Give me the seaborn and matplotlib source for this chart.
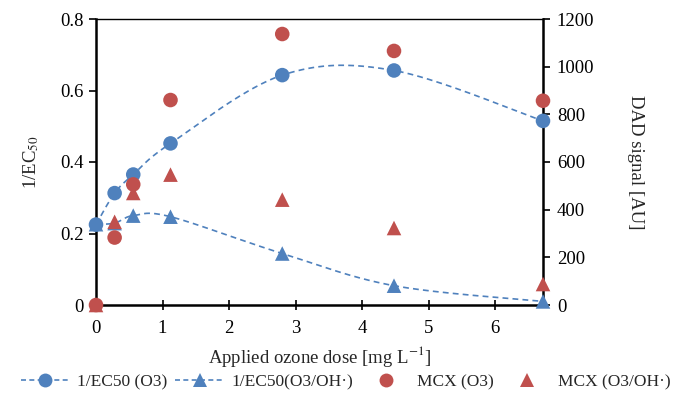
import numpy as np
import matplotlib
matplotlib.use("Agg")
import matplotlib.pyplot as plt
import seaborn as sns
from matplotlib.lines import Line2D

# ---- data ----
dose = [0, 0.28, 0.56, 1.12, 2.8, 4.48, 6.72]
ec50_o3 = [0.225, 0.313, 0.365, 0.452, 0.643, 0.656, 0.515]
ec50_o3oh = [0.226, 0.229, 0.250, 0.247, 0.144, 0.054, 0.010]
mcx_o3 = [0, 283, 506, 860, 1137, 1066, 857]
mcx_o3oh = [0, 349, 470, 547, 442, 323, 88]
labels = ["1/EC50 (O3)", "1/EC50(O3/OH·)", "MCX (O3)", "MCX (O3/OH·)"]

BLUE = "#4F81BD"
RED = "#C0504D"

sns.set_theme(style="white")
plt.rcParams['font.family'] = ['Liberation Serif', 'DejaVu Serif']
plt.rcParams['mathtext.fontset'] = 'stix'
FS = 13.5
LFS = 12.5


def smooth(x, y, n=40):
    """Excel-like smoothed line (Catmull-Rom Bezier)."""
    x = np.asarray(x, float); y = np.asarray(y, float)
    P = np.column_stack([x, y])
    out = []
    for i in range(len(P) - 1):
        p0 = P[i - 1] if i > 0 else P[i]
        p1 = P[i]; p2 = P[i + 1]
        p3 = P[i + 2] if i + 2 < len(P) else P[i + 1]
        c1 = p1 + (p2 - p0) / 6.0
        c2 = p2 - (p3 - p1) / 6.0
        t = np.linspace(0, 1, n)[:, None]
        seg = ((1 - t) ** 3) * p1 + 3 * ((1 - t) ** 2) * t * c1 + 3 * (1 - t) * t ** 2 * c2 + t ** 3 * p2
        out.append(seg if i == 0 else seg[1:])
    s = np.vstack(out)
    return s[:, 0], s[:, 1]


fig = plt.figure(figsize=(6.74, 4.05), dpi=100)
ax = fig.add_axes([96 / 674, 1 - 305 / 405, (543 - 96) / 674, (305 - 19) / 405])
ax2 = ax.twinx()

for yv in (ec50_o3, ec50_o3oh):
    sx, sy = smooth(dose, yv)
    ax.plot(sx, sy, ls=(0, (3.5, 2.5)), color=BLUE, lw=1.2, zorder=2)

# blue markers on ax2 scale (same mapping as left axis)
scale = 1200 / 0.8
sns.scatterplot(x=dose, y=np.array(ec50_o3) * scale, ax=ax2, marker='o', s=110, color=BLUE, edgecolor='none', zorder=3, clip_on=False)
sns.scatterplot(x=dose, y=np.array(ec50_o3oh) * scale, ax=ax2, marker='^', s=110, color=BLUE, edgecolor='none', zorder=3, clip_on=False)
sns.scatterplot(x=dose, y=mcx_o3, ax=ax2, marker='o', s=110, color=RED, edgecolor='none', zorder=4, clip_on=False)
sns.scatterplot(x=dose, y=mcx_o3oh, ax=ax2, marker='^', s=110, color=RED, edgecolor='none', zorder=4, clip_on=False)

ax.set_xlim(0, 6.72)
ax.set_ylim(0, 0.8)
ax2.set_ylim(0, 1200)
ax.set_xticks(range(0, 7))
ax.set_yticks([0, 0.2, 0.4, 0.6, 0.8])
ax.set_yticklabels(["0", "0.2", "0.4", "0.6", "0.8"])
ax2.set_yticks(range(0, 1201, 200))

for a in (ax, ax2):
    for sp in a.spines.values():
        sp.set_visible(False)
ax.spines['left'].set_visible(True)
ax.spines['bottom'].set_visible(True)
ax.spines['top'].set_visible(True)
ax2.spines['right'].set_visible(True)
for sp in ('left', 'bottom'):
    ax.spines[sp].set_linewidth(1.8); ax.spines[sp].set_color('black')
ax.spines['top'].set_linewidth(1.0); ax.spines['top'].set_color('black')
ax2.spines['right'].set_linewidth(1.8); ax2.spines['right'].set_color('black')

ax.tick_params(axis='y', direction='out', length=5, width=1.2, colors='black', labelsize=FS, left=True, pad=4)
ax.tick_params(axis='x', direction='inout', length=7, width=1.2, colors='black', labelsize=FS, bottom=True, pad=7)
ax2.tick_params(axis='y', direction='out', length=5, width=1.2, colors='black', labelsize=FS, right=True, pad=5)
ax.grid(False); ax2.grid(False)

ax.set_xlabel("Applied ozone dose [mg L$^{-1}$]", fontsize=FS, labelpad=5)
ax.set_ylabel("1/EC$_{50}$", fontsize=FS, labelpad=14)
ax2.set_ylabel("DAD signal [AU]", fontsize=FS, rotation=270, labelpad=36)

handles = [
    Line2D([], [], color=BLUE, ls=(0, (3, 2)), lw=1.2, marker='o', ms=10, markeredgewidth=0),
    Line2D([], [], color=BLUE, ls=(0, (3, 2)), lw=1.2, marker='^', ms=10, markeredgewidth=0),
    Line2D([], [], color=RED, ls='none', marker='o', ms=10, markeredgewidth=0),
    Line2D([], [], color=RED, ls='none', marker='^', ms=10, markeredgewidth=0),
]
leg = fig.legend(handles, labels, loc='center', bbox_to_anchor=(0.513, 1 - 382 / 405), ncol=4,
                 frameon=False, fontsize=LFS, handlelength=2.85, columnspacing=0.45, handletextpad=0.4,
                 borderaxespad=0, borderpad=0)
if ax2.get_legend():
    ax2.get_legend().remove()

fig.savefig("out.png", dpi=100)
